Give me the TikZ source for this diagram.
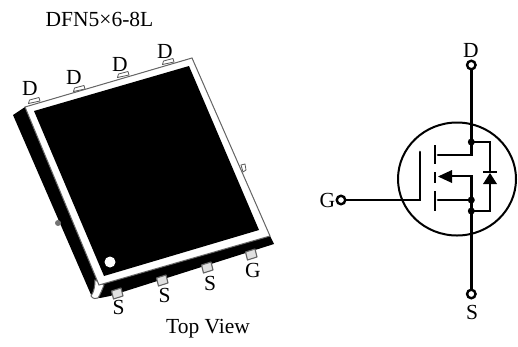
\documentclass[tikz,border=0pt]{standalone}
\usepackage{fontspec}
\setmainfont{Liberation Serif}
\usetikzlibrary{arrows.meta}
\tikzset{
  lbl/.style={font=\fontsize{21.5}{23}\selectfont,inner sep=0pt,text=black},
  wire/.style={line width=2.7pt,line cap=round,line join=miter},
  bar/.style={line width=2.8pt},
  ring/.style={circle,draw=black,line width=2.4pt,fill=white,minimum size=8.5pt,inner sep=0pt},
  dotj/.style={circle,fill=black,minimum size=7pt,inner sep=0pt},
  pintab/.style={draw=black!65,fill=white,line width=0.8pt,line join=round},
  pinbot/.style={draw=black!60,fill=black!12,line width=1.1pt,line join=round},
}
\begin{document}
\begin{tikzpicture}[x=1pt,y=-1pt]
\useasboundingbox (0,0) rectangle (518,346);
% package: top pins behind the body
\foreach \px/\py in {34/101,79/89,123/75,168/62}{
  \draw[pintab] (\px-5.5,\py+2.5) -- (\px-4.5,\py-1) -- (\px+5,\py-3.5) -- (\px+6,\py) -- cycle;
}
% right side tab
\draw[pintab] (241,165) -- (245,164) -- (246,170) -- (243,172) -- cycle;
% dark body
\fill[black] (13,115) -- (25,107) -- (192,58) -- (270,236) -- (274,244) -- (110,296) -- (100,298) -- (92,297) -- cycle;
% bottom pins over the dark side
\foreach \px/\py in {117/294,162/281,207/268,251/255}{
  \draw[pinbot] (\px-5.5,\py-3) -- (\px+4,\py-6) -- (\px+6,\py+2) -- (\px-3.5,\py+5) -- cycle;
}
\fill[black!55] (58,223) circle (3);
% rounded corner
\draw[fill=white,draw=black!60,line width=1pt] (95,280) -- (104,285) .. controls (102,290) and (100,295) .. (98,298) .. controls (96,299) and (93,299) .. (91,296) .. controls (94,292) and (95,286) .. (95,280) -- cycle;
% white frame and black top
\draw[fill=white,draw=black!60,line width=1pt] (25,107) -- (192,58) -- (270,236) -- (99,285) -- cycle;
\fill[black] (34,111) -- (189,66) -- (259,230) -- (104,276) -- cycle;
\fill[white] (110,262) circle (5.5);
% package labels
\node[lbl] (title) at (99.5,19) {DFN5×6-8L};
\node[lbl] (d1) at (30,88.5) {D};
\node[lbl] (d2) at (74,77) {D};
\node[lbl] (d3) at (120,64) {D};
\node[lbl] (d4) at (165,51) {D};
\node[lbl] (s1) at (118.5,307) {S};
\node[lbl] (s2) at (164.5,295.5) {S};
\node[lbl] (s3) at (210,283) {S};
\node[lbl] (g1) at (253,270.5) {G};
\node[lbl] (top) at (208,329) {Top View};
% MOSFET symbol
\draw[line width=2pt] (457,179) ellipse [x radius=59,y radius=56.5];
\node[ring] (D) at (471.3,65) {};
\node[ring] (S) at (471.3,294) {};
\node[ring] (G) at (341,200) {};
\node[dotj] (jd) at (471.3,142) {};
\node[dotj] (js) at (471.3,200) {};
\node[dotj] (jb) at (471.3,211) {};
\coordinate (gt) at (420,152);
\coordinate (gb) at (420,200);
\coordinate (dr) at (438,155);
\coordinate (dc) at (471.3,155);
\coordinate (sr) at (438,200);
\coordinate (mr) at (450,176);
\coordinate (mc) at (471.3,176);
\coordinate (bd) at (490,142);
\coordinate (bs) at (490,211);
\draw[wire] (D) -- (jd.center);
\draw[wire] (jb.center) -- (S);
\draw[wire] (jd.center) -- (dc) -- (dr);
\draw[wire] (jb.center) -- (js.center);
\draw[wire] (js.center) -- (sr);
\draw[wire] (js.center) -- (mc) -- (mr);
\draw[wire] (jd.center) -- (bd) -- (bs) -- (jb.center);
\draw[wire] (G) -- (gb) -- (gt);
\draw[bar] (435,145) -- (435,164);
\draw[bar] (435,172) -- (435,183);
\draw[bar] (435,191) -- (435,211);
\fill[black] (438,176.5) -- (452,170) -- (452,183) -- cycle;
\fill[white] (483,172.5) rectangle (497,184);
\fill[black] (490,173) -- (497,184) -- (483,184) -- cycle;
\draw[line width=1.1pt] (483,172) -- (497,172);
\node[lbl] (ld) at (471,50) {D};
\node[lbl] (lg) at (327.5,200) {G};
\node[lbl] (ls) at (472,312) {S};
\end{tikzpicture}
\end{document}
